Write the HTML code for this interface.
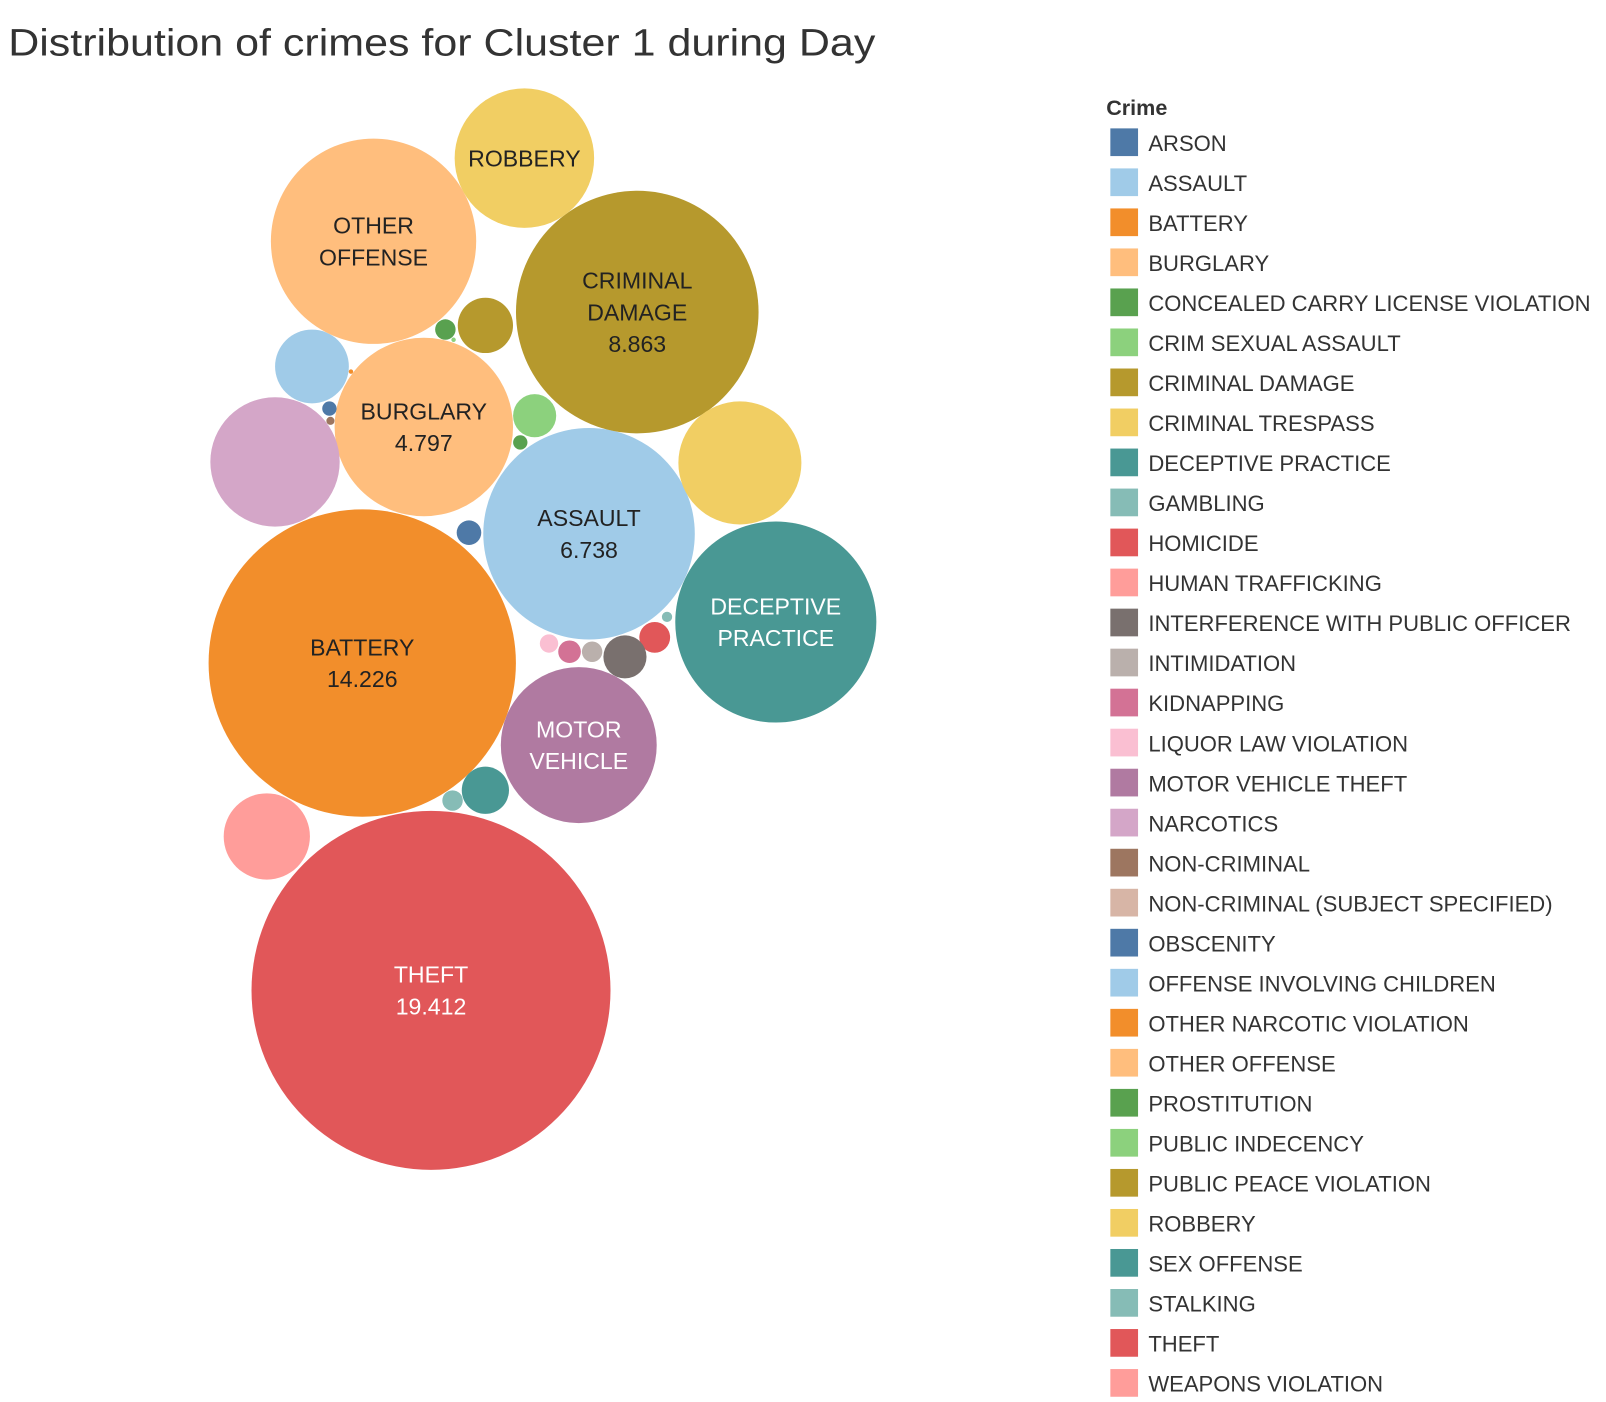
<!DOCTYPE html>
<html><head><meta charset="utf-8"><style>
html,body{margin:0;padding:0;background:#fff;}
svg{display:block;font-family:"Liberation Sans",sans-serif;}
</style></head><body>
<svg id="chart" width="1606" height="1402" viewBox="0 0 1565 1366" xmlns="http://www.w3.org/2000/svg">
<text x="8" y="54" font-size="37" fill="#333" textLength="845" lengthAdjust="spacingAndGlyphs">Distribution of crimes for Cluster 1 during Day</text>
<g id="bubbles"></g>
<text x="1078" y="112" font-size="21" font-weight="bold" fill="#333">Crime</text>
<g id="legend"></g>
</svg>
<script>
const categories = ["ARSON","ASSAULT","BATTERY","BURGLARY","CONCEALED CARRY LICENSE VIOLATION","CRIM SEXUAL ASSAULT","CRIMINAL DAMAGE","CRIMINAL TRESPASS","DECEPTIVE PRACTICE","GAMBLING","HOMICIDE","HUMAN TRAFFICKING","INTERFERENCE WITH PUBLIC OFFICER","INTIMIDATION","KIDNAPPING","LIQUOR LAW VIOLATION","MOTOR VEHICLE THEFT","NARCOTICS","NON-CRIMINAL","NON-CRIMINAL (SUBJECT SPECIFIED)","OBSCENITY","OFFENSE INVOLVING CHILDREN","OTHER NARCOTIC VIOLATION","OTHER OFFENSE","PROSTITUTION","PUBLIC INDECENCY","PUBLIC PEACE VIOLATION","ROBBERY","SEX OFFENSE","STALKING","THEFT","WEAPONS VIOLATION"];
const values = [0.091,6.738,14.226,4.797,0.031,0.28,8.863,2.28,6.09,0.063,0.143,0.0,0.28,0.063,0.077,0.051,3.66,2.52,0.01,0.0,0.031,0.82,0.003,6.35,0.063,0.003,0.46,2.93,0.336,0.016,19.412,1.12];
const labels = ["","ASSAULT|6.738","BATTERY|14.226","BURGLARY|4.797","","","CRIMINAL|DAMAGE|8.863","","DECEPTIVE|PRACTICE","","","","","","","","MOTOR|VEHICLE","","","","","","","OTHER|OFFENSE","","","","ROBBERY","","","THEFT|19.412",""];
const colors = ["#4e79a7","#a0cbe8","#f28e2b","#ffbe7d","#59a14f","#8cd17d","#b6992d","#f1ce63","#499894","#86bcb6","#e15759","#ff9d9a","#79706e","#bab0ac","#d37295","#fabfd2","#b07aa1","#d4a6c8","#9d7660","#d7b5a6"];
const layoutX = [457,574,353,413,507,521,621,721,756,441,638,0,609,577,555,535,564,268,322,0,321,304,342,364,434,442,473,511,473,650,420,260];
const layoutY = [519,520,646,416,431,405,304,451,606,780,621,0,640,635,635,627,726,450,410,0,398,357,362,235,321,331,317,154,770,601,965,815];
const darkText = {"DECEPTIVE PRACTICE":1,"MOTOR VEHICLE THEFT":1,"THEFT":1};
const rScale = v => 39.7*Math.sqrt(v);
const NS="http://www.w3.org/2000/svg";
const bg=document.getElementById('bubbles');
categories.forEach((c,i)=>{
  if(values[i]<=0) return;
  const circ=document.createElementNS(NS,'circle');
  circ.setAttribute('cx',layoutX[i]);circ.setAttribute('cy',layoutY[i]);
  circ.setAttribute('r',rScale(values[i]));circ.setAttribute('fill',colors[i%20]);
  
  
  bg.appendChild(circ);
  if(labels[i]){
    const lines=labels[i].split('|');
    const t=document.createElementNS(NS,'text');
    t.setAttribute('text-anchor','middle');t.setAttribute('font-size','22.5');
    t.setAttribute('fill',darkText[c]?'#fff':'#222');
    
    
    const lh=31, y0=layoutY[i]-(lines.length-1)*lh/2+8;
    lines.forEach((l,j)=>{const ts=document.createElementNS(NS,'tspan');ts.setAttribute('x',layoutX[i]);ts.setAttribute('y',y0+j*lh);ts.textContent=l;t.appendChild(ts);});
    bg.appendChild(t);
  }
});
const lg=document.getElementById('legend');
categories.forEach((c,i)=>{
  const y=125+i*39.0;
  const g=document.createElementNS(NS,'g');
  
  
  const r=document.createElementNS(NS,'rect');
  r.setAttribute('x',1082);r.setAttribute('y',y);r.setAttribute('width',27);r.setAttribute('height',27);r.setAttribute('fill',colors[i%20]);
  g.appendChild(r);
  const t=document.createElementNS(NS,'text');
  t.setAttribute('x',1119);t.setAttribute('y',y+22);t.setAttribute('font-size','21.5');t.setAttribute('fill','#333');
  t.textContent=c;g.appendChild(t);
  lg.appendChild(g);
});
</script>
</body></html>
